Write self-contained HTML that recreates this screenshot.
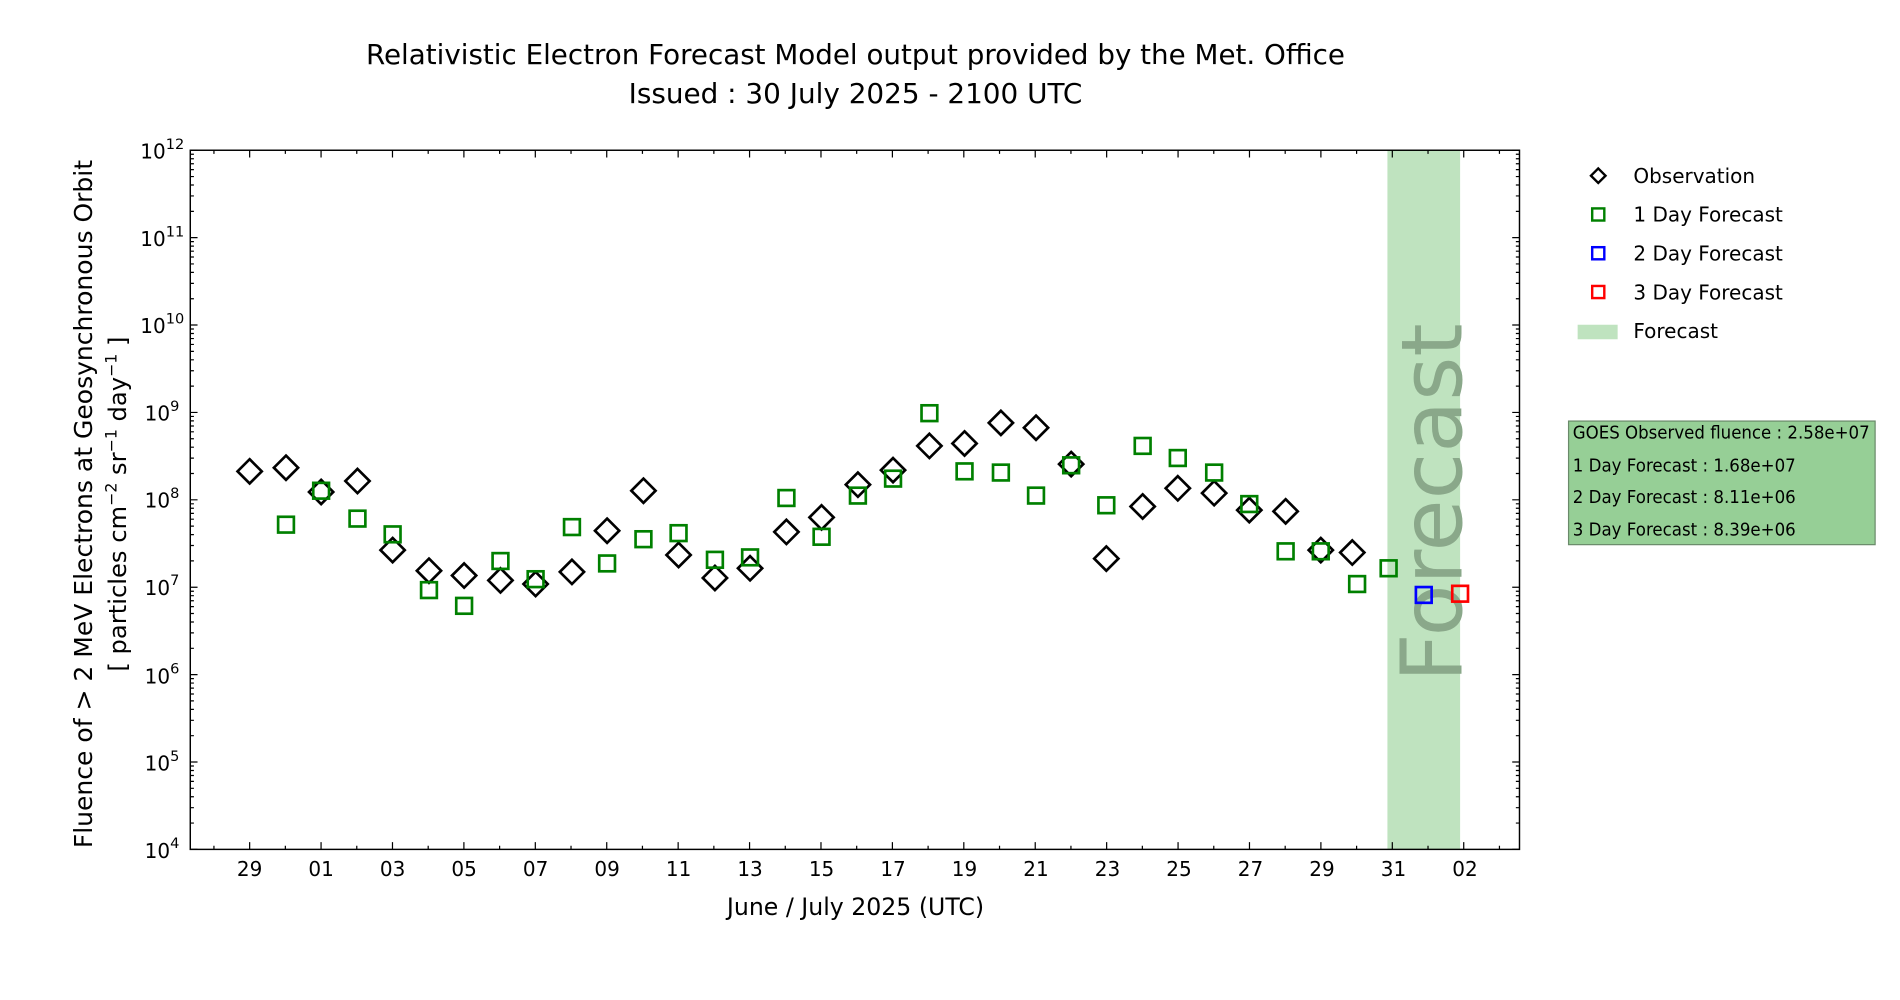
<!DOCTYPE html>
<html><head><meta charset="utf-8"><style>
html,body{margin:0;padding:0;background:#fff;}
svg{display:block;}
text{font-family:"DejaVu Sans","Liberation Sans",sans-serif;fill:#000;}
</style></head><body>
<svg id="s" width="1900" height="1000" viewBox="0 0 1568 825.3" xmlns="http://www.w3.org/2000/svg">
<rect x="1145" y="124" width="60" height="577" fill="#bfe3bf"/>
<text transform="translate(1206,563) rotate(-90)" font-size="70" style="fill:#8aa88a">Forecast</text>
<g id="ticks" stroke="#000" stroke-width="1"></g>
<g id="marks"></g>
<rect x="157" y="124" width="1097" height="577" fill="none" stroke="#000" stroke-width="1.2"/>
<text x="706" y="53" font-size="23" text-anchor="middle" textLength="808" lengthAdjust="spacingAndGlyphs">Relativistic Electron Forecast Model output provided by the Met. Office</text>
<text x="706" y="85" font-size="23" text-anchor="middle">Issued : 30 July 2025 - 2100 UTC</text>
<text x="706" y="755" font-size="19.5" text-anchor="middle">June / July 2025 (UTC)</text>
<text transform="translate(76,416) rotate(-90)" font-size="20.5" text-anchor="middle" textLength="568" lengthAdjust="spacingAndGlyphs">Fluence of &gt; 2 MeV Electrons at Geosynchronous Orbit</text>
<text transform="translate(104,416) rotate(-90)" font-size="20" text-anchor="middle">[ particles cm<tspan font-size="13" dy="-8">−2</tspan><tspan dy="8"> sr</tspan><tspan font-size="13" dy="-8">−1</tspan><tspan dy="8"> day</tspan><tspan font-size="13" dy="-8">−1</tspan><tspan dy="8"> ]</tspan></text>
<g font-size="16.5" text-anchor="end">
<text x="152" y="131"><tspan>10</tspan><tspan font-size="12" dy="-8">12</tspan></text>
<text x="152" y="203">10<tspan font-size="12" dy="-8">11</tspan></text>
<text x="152" y="275">10<tspan font-size="12" dy="-8">10</tspan></text>
<text x="148" y="347">10<tspan font-size="12" dy="-8">9</tspan></text>
<text x="148" y="419">10<tspan font-size="12" dy="-8">8</tspan></text>
<text x="148" y="491">10<tspan font-size="12" dy="-8">7</tspan></text>
<text x="148" y="564">10<tspan font-size="12" dy="-8">6</tspan></text>
<text x="148" y="636">10<tspan font-size="12" dy="-8">5</tspan></text>
<text x="148" y="708">10<tspan font-size="12" dy="-8">4</tspan></text>
</g>
<g font-size="16.5" text-anchor="middle">
<text x="206" y="723">29</text><text x="265" y="723">01</text><text x="324" y="723">03</text><text x="383" y="723">05</text><text x="442" y="723">07</text><text x="501" y="723">09</text><text x="560" y="723">11</text><text x="619" y="723">13</text><text x="678" y="723">15</text><text x="737" y="723">17</text><text x="796" y="723">19</text><text x="855" y="723">21</text><text x="914" y="723">23</text><text x="973" y="723">25</text><text x="1032" y="723">27</text><text x="1091" y="723">29</text><text x="1150" y="723">31</text><text x="1209" y="723">02</text>
</g>
<g font-size="16.5">
<path d="M1319 139 L1325 145 L1319 151 L1313 145 Z" fill="none" stroke="#000" stroke-width="2"/>
<text x="1348" y="151">Observation</text>
<rect x="1314" y="172" width="10" height="10" fill="none" stroke="#008000" stroke-width="2"/>
<text x="1348" y="183">1 Day Forecast</text>
<rect x="1314" y="204" width="10" height="10" fill="none" stroke="#0000ff" stroke-width="2"/>
<text x="1348" y="215">2 Day Forecast</text>
<rect x="1314" y="236" width="10" height="10" fill="none" stroke="#ff0000" stroke-width="2"/>
<text x="1348" y="247">3 Day Forecast</text>
<rect x="1302" y="268" width="33" height="12" fill="#bfe3bf"/>
<text x="1348" y="279">Forecast</text>
</g>
<rect x="1294.5" y="347.5" width="253" height="102" fill="#96cf96" stroke="#6a8a6a" stroke-width="1"/>
<g font-size="14.5">
<text x="1298" y="362" textLength="245" lengthAdjust="spacingAndGlyphs">GOES Observed fluence : 2.58e+07</text>
<text x="1298" y="389" textLength="184" lengthAdjust="spacingAndGlyphs">1 Day Forecast : 1.68e+07</text>
<text x="1298" y="415" textLength="184" lengthAdjust="spacingAndGlyphs">2 Day Forecast : 8.11e+06</text>
<text x="1298" y="442" textLength="184" lengthAdjust="spacingAndGlyphs">3 Day Forecast : 8.39e+06</text>
</g>
</svg>
<script>
var NS="http://www.w3.org/2000/svg";
function el(p,t,a){var e=document.createElementNS(NS,t);for(var k in a)e.setAttribute(k,a[k]);p.appendChild(e);return e;}
var T=document.getElementById('ticks'),M=document.getElementById('marks');
var d="";
for(var e=4;e<=12;e++){var y0=701-(e-4)*72.125;
 d+="M157 "+y0+"h6M1254 "+y0+"h-6";
 if(e<12)for(var m=2;m<=9;m++){var y=y0-Math.log10(m)*72.125;d+="M157 "+y+"h3M1254 "+y+"h-3";}}
for(var i=-2;i<=35;i++){var x=206+i*29.47;if(x<=157||x>=1254)continue;var maj=(i%2==0);
 d+="M"+x+" 701v-"+(maj?6:3)+"M"+x+" 124v"+(maj?6:3);}
el(T,'path',{d:d,fill:'none'});
var obs=[[206,389],[236,386],[265,406],[295,397],[324,454],[354,471],[383,475],[413,479],[442,482],[472,472],[501,438],[531,405],[560,458],[590,477],[619,469],[649,439],[678,427],[708,400],[737,388],[767,368],[796,366],[826,349],[855,353],[884,383],[913,461],[943,418],[972,403],[1002,407],[1031,421],[1061,422],[1090,454],[1116,456]];
var g1=[[236,433],[265,405],[295,428],[324,441],[354,487],[383,500],[413,463],[442,478],[472,435],[501,465],[531,445],[560,440],[590,462],[619,460],[649,411],[678,443],[708,409],[737,395],[767,341],[796,389],[826,390],[855,409],[884,384],[913,417],[943,368],[972,378],[1002,390],[1031,416],[1061,455],[1090,455],[1120,482],[1146,469]];
obs.forEach(function(p){var x=p[0],y=p[1],r=10;el(M,'path',{d:"M"+x+" "+(y-r)+"L"+(x+r)+" "+y+"L"+x+" "+(y+r)+"L"+(x-r)+" "+y+"Z",fill:'none',stroke:'#000','stroke-width':2.2});});
function sq(p,c){el(M,'rect',{x:p[0]-6.5,y:p[1]-6.5,width:13,height:13,fill:'none',stroke:c,'stroke-width':2.2});}
g1.forEach(function(p){sq(p,'#008000');});
sq([1175,491],'#0000ff');sq([1205,490],'#ff0000');
</script>
</body></html>
